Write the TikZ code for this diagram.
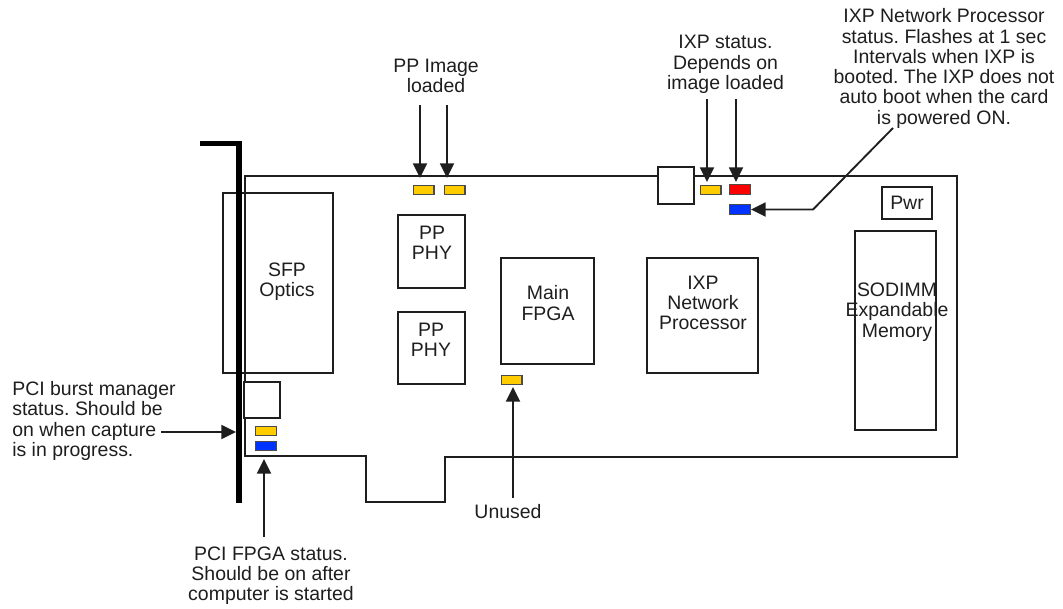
\documentclass[tikz,border=0pt]{standalone}
\usepackage{fontspec}
\setmainfont{Liberation Sans}
\usetikzlibrary{arrows.meta}
\definecolor{ledor}{RGB}{255,204,0}
\definecolor{ledbl}{RGB}{0,51,255}
\definecolor{ledrd}{RGB}{255,0,0}
\definecolor{ink}{RGB}{30,30,30}
\frenchspacing
\tikzset{
  boxn/.style={draw=ink,line width=1.5pt,fill=none,inner sep=0pt},
  led/.style={draw=ink!80,line width=1pt,minimum width=15.5pt,minimum height=7.2pt,inner sep=0pt},
  lab/.style={align=center,inner sep=0pt,font=\fontsize{14.6pt}{15.2pt}\selectfont,text=ink},
  pointer/.style={draw=ink,line width=1.4pt,-{Triangle[length=11pt,width=10.5pt]}},
  board/.style={draw=ink,line width=1.5pt},
  bracket/.style={draw=black,line width=4.2pt,line join=miter}
}
\begin{document}
\begin{tikzpicture}[x=0.75pt,y=-0.75pt]
\useasboundingbox (0,0) rectangle (1063,608);
% board outline
\draw[board] (245,176) -- (957,176) -- (957,457) -- (445,457) -- (445,502) -- (366,502) -- (366,456) -- (245,456) -- cycle;
% boxes
\node[boxn,minimum width=82pt,minimum height=135pt] (sfp) at (278,283) {};
\draw[bracket] (200,143.5) -- (239,143.5) -- (239,503);
\node[boxn,fill=white,minimum width=27pt,minimum height=27pt] (pcisq) at (262,400) {};
\node[boxn,fill=white,minimum width=27pt,minimum height=27.5pt] (topsq) at (676,185.5) {};
\node[boxn,minimum width=50pt,minimum height=54.5pt] (phya) at (431.5,251.5) {};
\node[boxn,minimum width=50pt,minimum height=54pt] (phyb) at (431.5,348) {};
\node[boxn,minimum width=70pt,minimum height=79.5pt] (fpga) at (547.5,311) {};
\node[boxn,minimum width=83pt,minimum height=86pt] (ixp) at (702.5,315.5) {};
\node[boxn,minimum width=37.5pt,minimum height=24pt] (pwr) at (907,203) {};
\node[boxn,minimum width=61pt,minimum height=149pt] (sodimm) at (895.5,330.5) {};
% box texts
\node[lab] (sfpt) at (287,281.5) {SFP\\Optics};
\node[lab] (phyat) at (432,242.5) {PP\\PHY};
\node[lab] (phybt) at (431,339.5) {PP\\PHY};
\node[lab] (fpgat) at (548,303) {Main\\FPGA};
\node[lab] (ixpt) at (703,303) {IXP\\Network\\Processor};
\node[lab] (pwrt) at (907,203) {Pwr};
\node[lab] (sodimmt) at (897,312) {SODIMM\\Expandable\\Memory};
% LEDs
\node[led,fill=ledor] (lppa) at (423.5,190) {};
\node[led,fill=ledor] (lppb) at (454.5,190) {};
\node[led,fill=ledor] (lixp) at (710.5,190) {};
\node[led,fill=ledrd] (lred) at (740,189.5) {};
\node[led,fill=ledbl] (lblue) at (740,209.5) {};
\node[led,fill=ledor] (lfpga) at (511.5,380) {};
\node[led,fill=ledor] (lpcia) at (266,431) {};
\node[led,fill=ledbl] (lpcib) at (266,446) {};
% labels
\node[lab] (tpp) at (436,76) {PP Image\\loaded};
\node[lab] (tixp) at (725.5,64.5) {IXP status.\\Depends on\\image loaded};
\node[lab] (tnet) at (944,68.5) {IXP Network Processor\\status. Flashes at 1 sec\\Intervals when IXP is\\booted. The IXP does not\\auto boot when the card\\is powered ON.};
\node[lab,align=left,anchor=west] (tburst) at (12,421) {PCI burst manager\\status. Should be\\on when capture\\is in progress.};
\node[lab] (tunused) at (508,512) {Unused};
\node[lab] (tfpgast) at (271,575.5) {PCI FPGA status.\\Should be on after\\computer is started};
% free ends of pointers
\coordinate (a1) at (420,105);
\coordinate (a2) at (447,105);
\coordinate (a3) at (707,99);
\coordinate (a4) at (736,99);
\coordinate (a5) at (893,128);
\coordinate (a5k) at (813,209.5);
\coordinate (a6) at (161,432);
\coordinate (a7) at (264,537);
\coordinate (a8) at (513,498);
\coordinate (b1) at (420,178);
\coordinate (b2) at (447,178);
\coordinate (b3) at (707,182);
\coordinate (b4) at (736,182);
\coordinate (b6) at (236,432);
\coordinate (b7) at (264,459);
\coordinate (b8) at (513,387);
% pointers
\draw[pointer] (a1) -- (b1);
\draw[pointer] (a2) -- (b2);
\draw[pointer] (a3) -- (b3);
\draw[pointer] (a4) -- (b4);
\draw[pointer] (a5) -- (a5k) -- (lblue.east);
\draw[pointer] (a6) -- (b6);
\draw[pointer] (a7) -- (b7);
\draw[pointer] (a8) -- (b8);
\end{tikzpicture}
\end{document}
